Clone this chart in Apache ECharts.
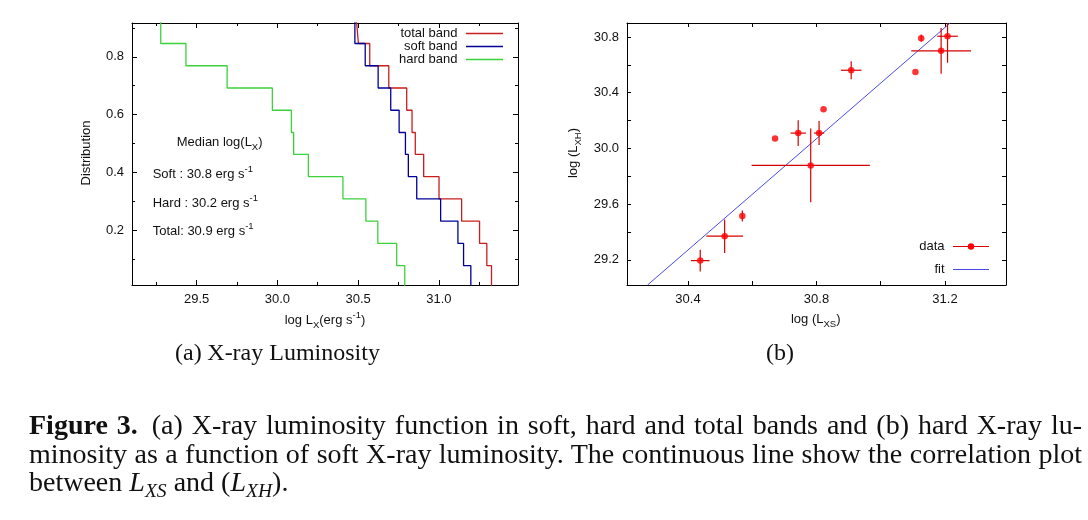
<!DOCTYPE html>
<html>
<head>
<meta charset="utf-8">
<script src="https://cdn.jsdelivr.net/npm/echarts@6.0.0/dist/echarts.min.js"></script>
<style>
html,body{margin:0;padding:0;background:#fff;}
#chart{position:absolute;left:0;top:0;width:1088px;height:520px;}
.cap{position:absolute;left:29px;width:1053px;font-family:"Liberation Serif","DejaVu Serif",serif;font-size:28px;line-height:28.3px;height:28.3px;white-space:nowrap;color:#111;}
.just{text-align:justify;text-align-last:justify;}
.cap sub{font-size:0.7em;vertical-align:baseline;position:relative;top:0.3em;line-height:0;}
</style>
</head>
<body>
<div id="chart"></div>
<div class="cap just" style="top:411.4px"><b>Figure 3.</b>&ensp;(a) X-ray luminosity function in soft, hard and total bands and (b) hard X-ray lu-</div>
<div class="cap just" style="top:439.7px">minosity as a function of soft X-ray luminosity. The continuous line show the correlation plot</div>
<div class="cap" style="top:468.1px">between <i>L<sub>XS</sub></i> and (<i>L<sub>XH</sub></i>).</div>
<script>
// ---------- Data: panel (a) luminosity distributions (log Lx of each source, ascending) ----------
const hardBand  = [28.95, 29.278, 29.434, 29.689, 29.969, 30.087, 30.101, 30.192, 30.406, 30.548, 30.622, 30.739, 30.789];
const softBand  = [30.40, 30.480, 30.544, 30.624, 30.702, 30.754, 30.793, 30.811, 30.863, 31.011, 31.118, 31.153, 31.198];
const totalBand = [30.49, 30.502, 30.572, 30.690, 30.801, 30.834, 30.854, 30.906, 31.001, 31.141, 31.252, 31.297, 31.326];
// fraction of sources above each luminosity (read from the steps)
const distLevels = [0.923, 0.846, 0.769, 0.692, 0.615, 0.538, 0.462, 0.385, 0.308, 0.231, 0.154, 0.077, 0.0];

// ---------- Data: panel (b) hard vs soft luminosity ----------
const lxs    = [30.438, 30.514, 30.569, 30.671, 30.743, 30.808, 30.822, 30.782, 30.908, 31.108, 31.126, 31.188, 31.208];
const lxh    = [29.195, 29.370, 29.515, 30.072, 30.110, 30.110, 30.282, 29.878, 30.561, 30.549, 30.791, 30.700, 30.805];
const lxsErr = [0.029, 0.057, 0.000, 0.000, 0.024, 0.016, 0.000, 0.184, 0.032, 0.000, 0.000, 0.093, 0.032];
const lxhErr = [0.078, 0.120, 0.040, 0.000, 0.092, 0.086, 0.000, 0.265, 0.064, 0.000, 0.026, 0.165, 0.190];
const fitX = [30.274, 31.216];
const fitY = [29.02, 30.90];

// ---------- Tick labels ----------
const distXLabels = ['29.5', '30.0', '30.5', '31.0'];
const distYLabels = ['0.2', '0.4', '0.6', '0.8'];
const corrXLabels = ['30.4', '30.8', '31.2'];
const corrYLabels = ['29.2', '29.6', '30.0', '30.4', '30.8'];

// ---------- Styling ----------
const F = '"Liberation Sans", Arial, sans-serif';
const SERIF = '"Liberation Serif", "DejaVu Serif", serif';
const TXT = '#111';
const RED = '#c81e1e', BLUE = '#000099', GREEN = '#3cd23c';
const PT_RED = '#ff0000', ERR_RED = '#d40000', FIT_BLUE = '#4a4ae6';

function labelFmt(list) {
  return function (v) { const s = v.toFixed(1); return list.indexOf(s) >= 0 ? s : ''; };
}
function axis(gridIndex, position, min, max, splitNumber, labels, minor, tickLen) {
  const mirror = (position === 'top' || position === 'right');
  return {
    type: 'value', gridIndex: gridIndex, position: position, min: min, max: max,
    splitNumber: splitNumber, scale: true,
    axisLine: { show: true, onZero: false, lineStyle: { color: '#000', width: 1 } },
    axisTick: { show: true, inside: true, length: tickLen, lineStyle: { color: '#000', width: 1 } },
    minorTick: { show: minor, splitNumber: 2, length: 3, lineStyle: { color: '#000', width: 1 } },
    splitLine: { show: false },
    axisLabel: {
      show: !mirror, margin: 8, fontFamily: F, fontSize: 13, color: TXT,
      showMinLabel: false, showMaxLabel: false, formatter: labelFmt(labels)
    }
  };
}

const RICH = {
  n: { fontFamily: F, fontSize: 13, color: TXT, lineHeight: 20 },
  b: { fontFamily: F, fontSize: 9.5, color: TXT, lineHeight: 10, verticalAlign: 'bottom' },
  p: { fontFamily: F, fontSize: 9.5, color: TXT, lineHeight: 10, verticalAlign: 'top' }
};
function rtext(x, y, text, align, rotation) {
  return {
    type: 'text', x: x, y: y, rotation: rotation || 0, silent: true,
    style: { text: text, rich: RICH, align: align, verticalAlign: 'middle', fontFamily: F, fontSize: 13, fill: TXT }
  };
}
function ptext(x, y, text, align) {
  return {
    type: 'text', x: x, y: y, silent: true,
    style: { text: text, align: align, verticalAlign: 'middle', fontFamily: F, fontSize: 13, fill: TXT }
  };
}
function seg(x1, y1, x2, y2, color, w) {
  return { type: 'line', silent: true, shape: { x1: x1, y1: y1, x2: x2, y2: y2 }, style: { stroke: color, lineWidth: w } };
}

function stepSeries(name, xs, color) {
  return {
    name: name, type: 'line', xAxisIndex: 0, yAxisIndex: 0, step: 'end',
    data: xs.map(function (x, i) { return [x, distLevels[i]]; }),
    symbol: 'none', clip: true, lineStyle: { color: color, width: 1.3 },
    emphasis: { disabled: true }, z: 3
  };
}

const chart = echarts.init(document.getElementById('chart'), null, { renderer: 'canvas', width: 1088, height: 520 });

const option = {
  animation: false,
  backgroundColor: '#fff',
  grid: [
    { left: 132, top: 23, width: 386, height: 262, outerBoundsMode: 'none', containLabel: false },
    { left: 627, top: 23, width: 379, height: 262, outerBoundsMode: 'none', containLabel: false }
  ],
  xAxis: [
    axis(0, 'bottom', 29.1, 31.49, 5, distXLabels, true, 5),
    axis(0, 'top', 29.1, 31.49, 5, distXLabels, true, 5),
    axis(1, 'bottom', 30.21, 31.39, 6, corrXLabels, false, 4),
    axis(1, 'top', 30.21, 31.39, 6, corrXLabels, false, 4)
  ],
  yAxis: [
    axis(0, 'left', 0.01, 0.917, 5, distYLabels, true, 5),
    axis(0, 'right', 0.01, 0.917, 5, distYLabels, true, 5),
    axis(1, 'left', 29.02, 30.9, 9, corrYLabels, false, 4),
    axis(1, 'right', 29.02, 30.9, 9, corrYLabels, false, 4)
  ],
  series: [
    stepSeries('total band', totalBand, RED),
    stepSeries('soft band', softBand, BLUE),
    stepSeries('hard band', hardBand, GREEN),
    {
      name: 'fit', type: 'line', xAxisIndex: 2, yAxisIndex: 2,
      data: fitX.map(function (x, i) { return [x, fitY[i]]; }),
      symbol: 'none', clip: true, lineStyle: { color: FIT_BLUE, width: 1 },
      emphasis: { disabled: true }, z: 2
    },
    {
      name: 'data errors', type: 'custom', xAxisIndex: 2, yAxisIndex: 2, clip: true,
      data: lxs.map(function (x, i) { return [x, lxh[i], lxsErr[i], lxhErr[i]]; }),
      encode: { x: 0, y: 1 },
      renderItem: function (params, api) {
        const x = api.value(0), y = api.value(1), ex = api.value(2), ey = api.value(3);
        const children = [];
        if (ex > 0) {
          const a = api.coord([x - ex, y]), b = api.coord([x + ex, y]);
          children.push({ type: 'line', shape: { x1: a[0], y1: a[1], x2: b[0], y2: b[1] }, style: { stroke: ERR_RED, lineWidth: 1.2 } });
        }
        if (ey > 0) {
          const a = api.coord([x, y - ey]), b = api.coord([x, y + ey]);
          children.push({ type: 'line', shape: { x1: a[0], y1: a[1], x2: b[0], y2: b[1] }, style: { stroke: ERR_RED, lineWidth: 1.2 } });
        }
        return { type: 'group', children: children };
      },
      z: 3
    },
    {
      name: 'data', type: 'scatter', xAxisIndex: 2, yAxisIndex: 2,
      data: lxs.map(function (x, i) { return [x, lxh[i]]; }),
      symbol: 'circle', symbolSize: 6.5, itemStyle: { color: PT_RED },
      emphasis: { disabled: true }, z: 4
    }
  ],
  graphic: [
    // panel (a) axis names
    rtext(86.7, 153, '{n|Distribution}', 'center', Math.PI / 2),
    rtext(325, 320, '{n|log L}{b|X}{n|(erg s}{p|-1}{n|)}', 'center'),
    // panel (a) legend
    ptext(457.5, 33.3, 'total band', 'right'),
    seg(466, 33.5, 503, 33.5, RED, 1.3),
    ptext(457.5, 46.6, 'soft band', 'right'),
    seg(466, 46.5, 503, 46.5, BLUE, 1.3),
    ptext(457.5, 59.3, 'hard band', 'right'),
    seg(466, 59.5, 503, 59.5, GREEN, 1.3),
    // panel (a) annotation
    rtext(176.7, 142.7, '{n|Median log(L}{b|X}{n|)}', 'left'),
    rtext(152.7, 174.3, '{n|Soft : 30.8 erg s}{p|-1}', 'left'),
    rtext(152.7, 203.3, '{n|Hard : 30.2 erg s}{p|-1}', 'left'),
    rtext(152.7, 231, '{n|Total: 30.9 erg s}{p|-1}', 'left'),
    // panel (b) axis names
    rtext(573, 153, '{n|log (L}{b|XH}{n|)}', 'center', Math.PI / 2),
    rtext(815.7, 319, '{n|log (L}{b|XS}{n|)}', 'center'),
    // panel (b) legend
    ptext(944.5, 246, 'data', 'right'),
    seg(953, 246.5, 989, 246.5, ERR_RED, 1.2),
    { type: 'circle', silent: true, shape: { cx: 971, cy: 246.5, r: 3.2 }, style: { fill: PT_RED } },
    ptext(944.5, 269.3, 'fit', 'right'),
    seg(953, 269.5, 989, 269.5, FIT_BLUE, 1),
    // sub-captions
    { type: 'text', x: 175, y: 354, silent: true, style: { text: '(a)', align: 'left', verticalAlign: 'middle', fontFamily: SERIF, fontSize: 24, fill: TXT } },
    { type: 'text', x: 207.3, y: 354, silent: true, style: { text: 'X-ray Luminosity', align: 'left', verticalAlign: 'middle', fontFamily: SERIF, fontSize: 24, fill: TXT } },
    { type: 'text', x: 780, y: 354, silent: true, style: { text: '(b)', align: 'center', verticalAlign: 'middle', fontFamily: SERIF, fontSize: 24, fill: TXT } }
  ]
};
chart.setOption(option);
</script>
</body>
</html>
